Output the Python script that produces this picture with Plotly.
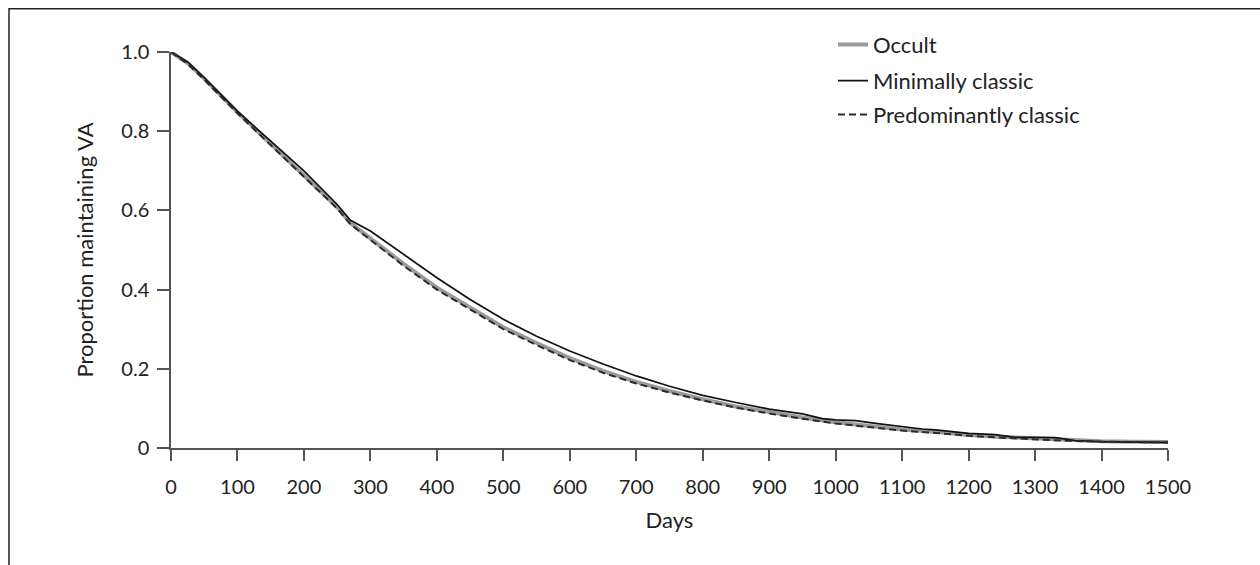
import plotly.graph_objects as go

# ---- data ----
days_min = [0, 25, 50, 100, 150, 200, 250, 270, 300, 350, 400, 450, 500, 550, 600, 650, 700, 750,
            800, 850, 900, 950, 980, 1000, 1030, 1060, 1100, 1130, 1150, 1200, 1240, 1270, 1300,
            1330, 1360, 1400, 1450, 1500]
minimally_classic = [1.0, 0.975, 0.935, 0.85, 0.775, 0.70, 0.615, 0.575, 0.548, 0.49, 0.43, 0.375,
                     0.325, 0.282, 0.245, 0.212, 0.182, 0.156, 0.133, 0.115, 0.098, 0.086, 0.074,
                     0.071, 0.069, 0.062, 0.053, 0.048, 0.046, 0.037, 0.034, 0.027, 0.027, 0.026,
                     0.019, 0.016, 0.015, 0.014]

days = [0, 25, 50, 100, 150, 200, 250, 270, 300, 350, 400, 450, 500, 550, 600, 650, 700, 750, 800,
        850, 900, 950, 1000, 1050, 1100, 1150, 1200, 1250, 1300, 1350, 1400, 1450, 1500]
occult = [1.0, 0.972, 0.933, 0.848, 0.768, 0.688, 0.608, 0.568, 0.53, 0.465, 0.405, 0.355, 0.305,
          0.265, 0.227, 0.195, 0.167, 0.144, 0.123, 0.105, 0.09, 0.077, 0.065, 0.056, 0.047, 0.041,
          0.033, 0.028, 0.024, 0.019, 0.017, 0.016, 0.015]
predominantly_classic = [1.0, 0.97, 0.93, 0.845, 0.765, 0.685, 0.605, 0.565, 0.525, 0.46, 0.40,
                         0.35, 0.30, 0.26, 0.222, 0.19, 0.163, 0.14, 0.12, 0.102, 0.087, 0.074,
                         0.062, 0.053, 0.044, 0.038, 0.031, 0.026, 0.022, 0.018, 0.016, 0.015, 0.014]

x_ticks = list(range(0, 1501, 100))
y_ticks = [0, 0.2, 0.4, 0.6, 0.8, 1.0]
y_tick_text = ["0", "0.2", "0.4", "0.6", "0.8", "1.0"]

FONT = "Lato, 'Open Sans', sans-serif"
TXT = "#222222"
AX = "#555555"

fig = go.Figure()
fig.add_trace(go.Scatter(x=days, y=occult, mode="lines", name="Occult",
                         line=dict(color="#9a9a9a", width=4), legend="legend"))
fig.add_trace(go.Scatter(x=days_min, y=minimally_classic, mode="lines", name="Minimally classic",
                         line=dict(color="#111111", width=1.7), legend="legend2"))
fig.add_trace(go.Scatter(x=days, y=predominantly_classic, mode="lines", name="Predominantly classic",
                         line=dict(color="#2a2a2a", width=2, dash="7px,4px"), legend="legend3"))

leg_common = dict(xanchor="left", yanchor="middle", bgcolor="rgba(0,0,0,0)",
                  font=dict(family=FONT, size=22, color=TXT), borderwidth=0)
L = 171.0
W = 997.0
T = 52.3
H = 395.4


def px_to_paper_x(px):
    return (px - L) / W


def py_to_paper_y(py):
    return (T + H - py) / H


fig.update_layout(
    width=1260, height=565,
    margin=dict(l=171, r=92, t=52, b=117, pad=0),
    paper_bgcolor="white", plot_bgcolor="white",
    font=dict(family=FONT, size=20, color=TXT),
    showlegend=True,
    legend=dict(x=px_to_paper_x(833), y=py_to_paper_y(45), **leg_common),
    legend2=dict(x=px_to_paper_x(833), y=py_to_paper_y(81), **leg_common),
    legend3=dict(x=px_to_paper_x(833), y=py_to_paper_y(115), **leg_common),
    xaxis=dict(range=[0, 1500], tickvals=x_ticks, ticks="outside", ticklen=11, tickwidth=1.5,
               tickcolor=AX, showline=True, linecolor=AX, linewidth=1.5, showgrid=False,
               zeroline=False, tickfont=dict(size=20, color=TXT), ticklabelstandoff=9,
               title=dict(text="Days", font=dict(size=22, color=TXT), standoff=16)),
    yaxis=dict(range=[0, 1.0], tickvals=y_ticks, ticktext=y_tick_text, ticks="outside",
               ticklen=12, tickwidth=1.5, tickcolor=AX, showline=True, linecolor=AX,
               linewidth=1.5, showgrid=False, zeroline=False, tickfont=dict(size=20, color=TXT),
               ticklabelstandoff=4,
               title=dict(text="Proportion maintaining VA", font=dict(size=22, color=TXT),
                          standoff=22)),
    shapes=[dict(type="rect", xref="paper", yref="paper",
                 x0=px_to_paper_x(9), x1=px_to_paper_x(1265),
                 y0=py_to_paper_y(570), y1=py_to_paper_y(9),
                 line=dict(color="#222222", width=1.5), fillcolor="rgba(0,0,0,0)", layer="below")],
)

fig.write_html("out.html")
